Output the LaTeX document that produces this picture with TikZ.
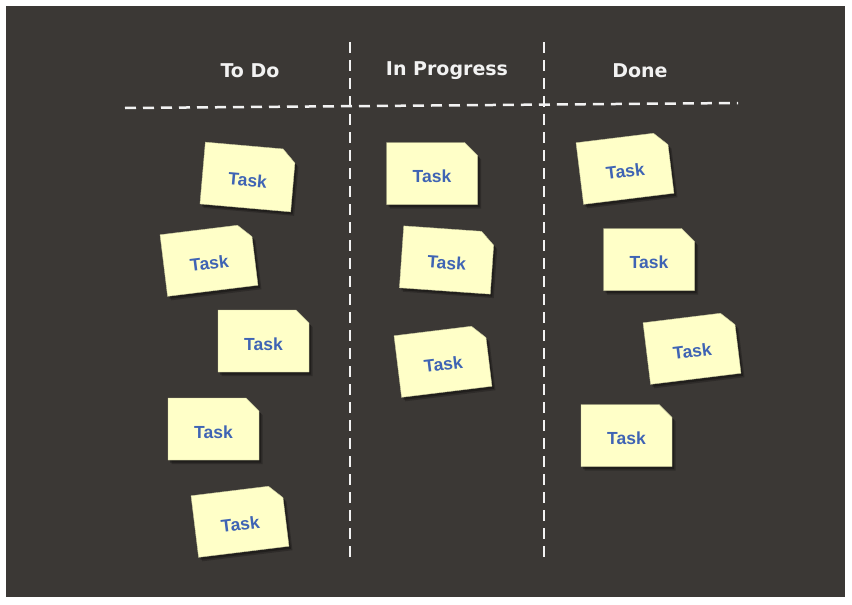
\documentclass[tikz,border=0pt]{standalone}
\usepackage{fontspec}
\setmainfont{Liberation Sans}
\newfontfamily\hdrfont{DejaVu Sans}
\usetikzlibrary{shapes.misc,shadows}
\definecolor{board}{HTML}{3B3835}
\definecolor{notefill}{HTML}{FFFFC8}
\definecolor{notetext}{HTML}{3F64B4}
\definecolor{linecol}{HTML}{F2F2F2}
\begin{document}
\begin{tikzpicture}[x=1pt,y=-1pt,
  note/.style={chamfered rectangle, chamfered rectangle corners=north east,
    chamfered rectangle xsep=6.5pt, chamfered rectangle ysep=6.5pt,
    fill=notefill, draw=notefill!80!black, line width=0.4pt,
    minimum width=91pt, minimum height=62pt, inner sep=0pt,
    text height=18.5pt, text depth=0pt,
    font=\bfseries\fontsize{17.5}{17.5}\selectfont, text=notetext,
    drop shadow={shadow xshift=3.5pt, shadow yshift=-4pt, opacity=0.22, fill=black},
    drop shadow={shadow xshift=2pt, shadow yshift=-2.5pt, opacity=0.3, fill=black}},
  header/.style={font=\hdrfont\bfseries\fontsize{19}{21}\selectfont, text=linecol},
  divider/.style={draw=linecol, line width=2.5pt, dash pattern=on 11pt off 7pt}]
\fill[white] (0,0) rectangle (852,605);
\fill[board] (6,6) rectangle (845,597);
% dividers
\coordinate (hl) at (125,108);
\coordinate (hr) at (738,103);
\coordinate (vat) at (350,42);
\coordinate (vab) at (350,558);
\coordinate (vbt) at (544,42);
\coordinate (vbb) at (544,558);
\draw[divider] (hl) -- (hr);
\draw[divider] (vat) -- (vab);
\draw[divider] (vbt) -- (vbb);
% headers
\node[header] (htodo) at (250,71) {To Do};
\node[header] (hprog) at (447,71) {In Progress};
\node[header] (hdone) at (640,71) {Done};
% To Do
\node[note, rotate=-5] (t1) at (248,177) {Task};
\node[note, rotate=7] (t2) at (209,260) {Task};
\node[note] (t3) at (263.5,341) {Task};
\node[note] (t4) at (213.5,429) {Task};
\node[note, rotate=7] (t5) at (240,521) {Task};
% In Progress
\node[note] (p1) at (432,173.5) {Task};
\node[note, rotate=-4] (p2) at (447,260) {Task};
\node[note, rotate=7] (p3) at (443,361) {Task};
% Done
\node[note, rotate=7] (d1) at (625,168) {Task};
\node[note] (d2) at (649,259.5) {Task};
\node[note, rotate=7] (d3) at (692,348) {Task};
\node[note] (d4) at (626.5,435.5) {Task};
\end{tikzpicture}
\end{document}
